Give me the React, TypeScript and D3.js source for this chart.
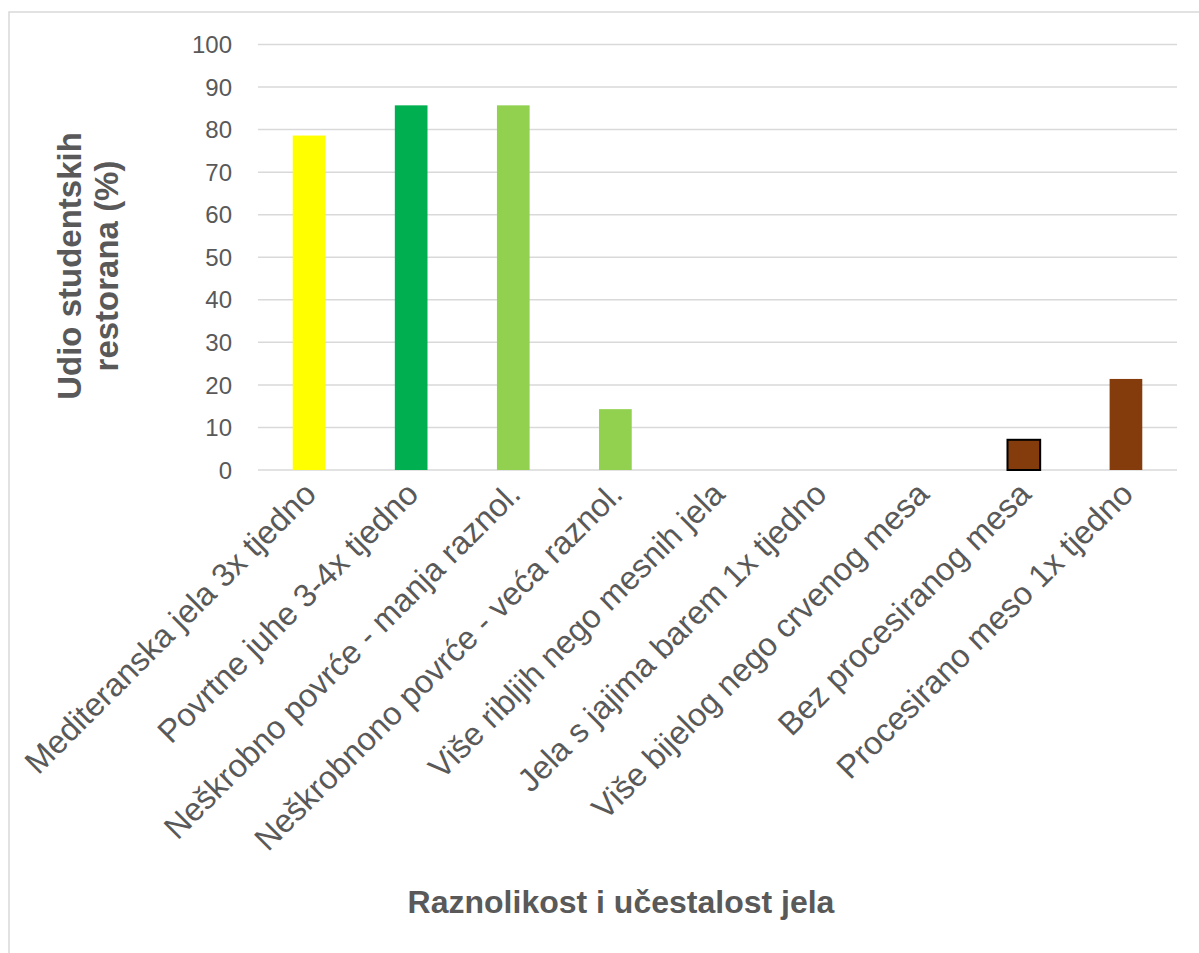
import React from "react";
import * as d3 from "d3";

const categories = [
  "Mediteranska jela 3x tjedno",
  "Povrtne juhe 3-4x tjedno",
  "Neškrobno povrće - manja raznol.",
  "Neškrobnono povrće - veća raznol.",
  "Više ribljih nego mesnih jela",
  "Jela s jajima barem 1x tjedno",
  "Više bijelog nego crvenog mesa",
  "Bez procesiranog mesa",
  "Procesirano meso 1x tjedno",
];
const values = [78.6, 85.7, 85.7, 14.3, 0, 0, 0, 7.1, 21.4];
const barColors = ["#FFFF00", "#00B050", "#92D050", "#92D050", "#92D050", "#92D050", "#843C0C", "#843C0C", "#843C0C"];
const barOutlined = [false, false, false, false, false, false, false, true, false];
const yTicks = [0, 10, 20, 30, 40, 50, 60, 70, 80, 90, 100];
const yTitleLines = ["Udio studentskih", "restorana (%)"];
const xTitle = "Raznolikost i učestalost jela";

const W = 1199;
const H = 953;
const plot = { left: 258, right: 1177, top: 44.5, bottom: 470 };
const textColor = "#595959";
const gridColor = "#D9D9D9";
const font = "'Liberation Sans', Arial, sans-serif";

export default function App() {
  const x = d3
    .scaleBand<string>()
    .domain(categories)
    .range([plot.left, plot.right])
    .paddingInner(0.68)
    .paddingOuter(0.34);
  const y = d3.scaleLinear().domain([0, 100]).range([plot.bottom, plot.top]);

  return (
    <svg
      width={W}
      height={H}
      style={{ position: "absolute", left: 0, top: 0, background: "#fff" }}
      fontFamily={font}
    >
      <rect x={0} y={0} width={W} height={H} fill="#fff" />
      <rect x={9} y={12} width={W + 20} height={H + 20} fill="none" stroke={gridColor} strokeWidth={1.5} />
      {yTicks.map((t) => (
        <g key={t}>
          <line x1={plot.left} x2={plot.right} y1={y(t)} y2={y(t)} stroke={gridColor} strokeWidth={1.5} />
          <text x={232} y={y(t)} dy="0.36em" textAnchor="end" fontSize={24} fill={textColor}>
            {t}
          </text>
        </g>
      ))}
      {categories.map((c, i) =>
        values[i] > 0 ? (
          <rect
            key={c}
            x={x(c)!}
            y={y(values[i])}
            width={x.bandwidth()}
            height={y(0) - y(values[i])}
            fill={barColors[i]}
            stroke={barOutlined[i] ? "#000" : "none"}
            strokeWidth={barOutlined[i] ? 2 : 0}
          />
        ) : null
      )}
      {categories.map((c, i) => {
        const cx = (x(c) ?? 0) + x.bandwidth() / 2 + 9;
        const cy = 496;
        return (
          <text
            key={"l" + c}
            transform={`translate(${cx},${cy}) rotate(-45)`}
            textAnchor="end"
            fontSize={32.5}
            fill={textColor}
          >
            {c}
          </text>
        );
      })}
      <g transform="translate(81,266) rotate(-90)">
        {yTitleLines.map((l, i) => (
          <text key={l} x={0} y={i * 37} textAnchor="middle" fontSize={33} fontWeight="bold" fill={textColor}>
            {l}
          </text>
        ))}
      </g>
      <text x={621} y={913} textAnchor="middle" fontSize={32} fontWeight="bold" fill={textColor}>
        {xTitle}
      </text>
    </svg>
  );
}
